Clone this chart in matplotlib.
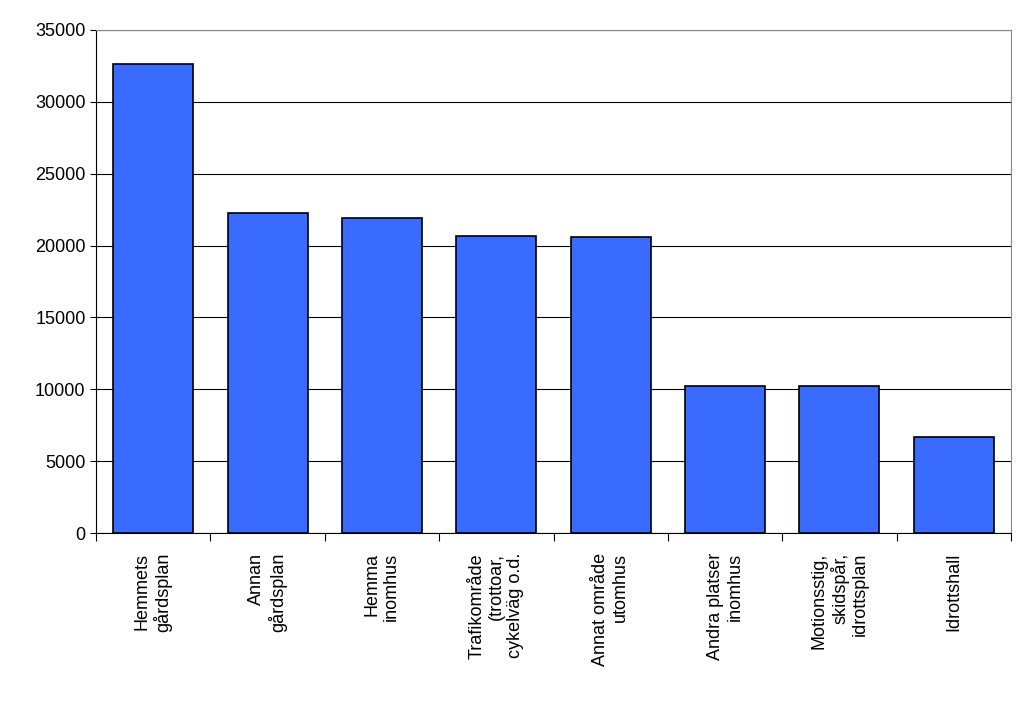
import matplotlib
matplotlib.use("Agg")
import matplotlib.pyplot as plt
import numpy as np

categories = ["Hemmets\ngårdsplan", "Annan\ngårdsplan", "Hemma\ninomhus",
              "Trafikområde\n(trottoar,\ncykelväg o.d.", "Annat område\nutomhus",
              "Andra platser\ninomhus", "Motionsstig,\nskidspår,\nidrottsplan", "Idrottshall"]
values = [32650, 22300, 21900, 20650, 20600, 10200, 10200, 6680]

plt.rcParams['font.family'] = ['Liberation Sans', 'DejaVu Sans']
fig = plt.figure(figsize=(10.24, 7.12), dpi=100)
ax = fig.add_axes([96/1024, 1-533/712, (1011-96)/1024, (533-30)/712])
x = np.arange(len(categories))
ax.bar(x, values, width=0.7, color='#3a6bff', edgecolor='black', linewidth=1.2, zorder=3)
ax.set_xlim(-0.5, len(categories)-0.5)
ax.set_ylim(0, 35000)
ax.set_yticks(range(0, 35001, 5000))
ax.yaxis.grid(True, color='black', linewidth=0.8, zorder=0)
ax.tick_params(axis='y', labelsize=13, length=4, direction='out')
ax.set_xticks(np.arange(-0.5, len(categories), 1))
ax.set_xticklabels([])
ax.tick_params(axis='x', length=6, direction='out')
for xi, lab in zip(x, categories):
    ax.text(xi, -0.04, lab, transform=ax.get_xaxis_transform(), rotation=90,
            ha='center', va='top', multialignment='right', fontsize=13)
for s in ax.spines.values():
    s.set_color('#888888')
ax.spines['left'].set_color('black')
ax.spines['bottom'].set_color('black')
fig.savefig("out.png", dpi=100)
